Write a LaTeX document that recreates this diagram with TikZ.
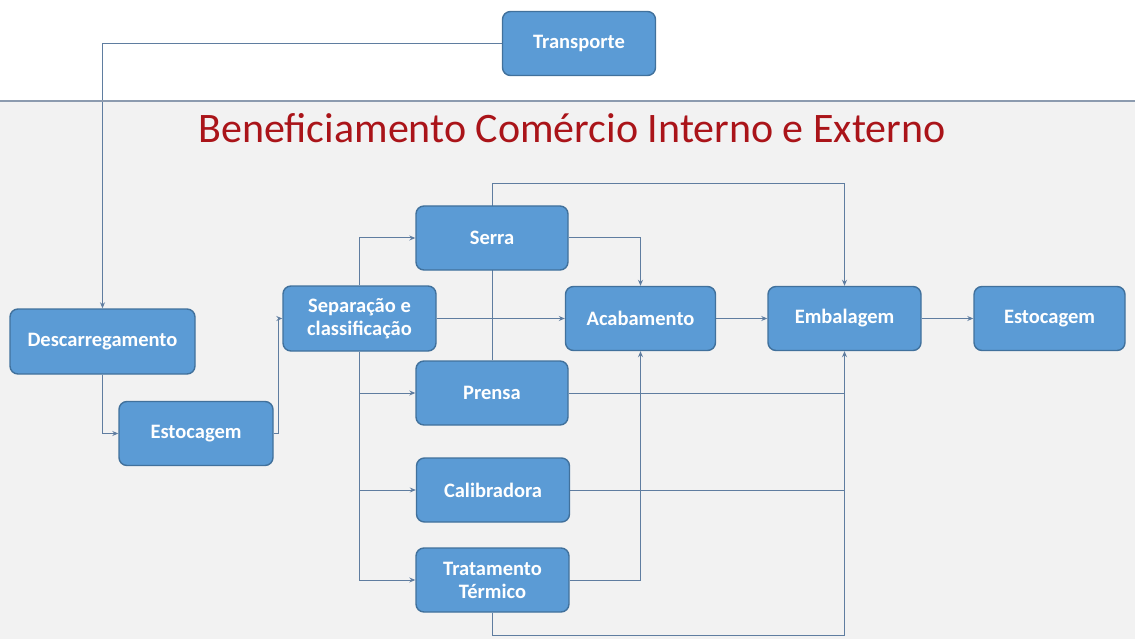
\documentclass[tikz,border=0pt]{standalone}
\usepackage{fontspec}
\setmainfont{Carlito}
\usetikzlibrary{arrows.meta,backgrounds}
\definecolor{boxfill}{RGB}{91,155,213}
\definecolor{boxline}{RGB}{65,113,156}
\definecolor{connc}{RGB}{95,125,160}
\definecolor{sepc}{RGB}{140,155,175}
\definecolor{panel}{RGB}{242,242,242}
\definecolor{titlec}{RGB}{170,20,25}
\tikzset{
  procbox/.style={draw=boxline, line width=1.4pt, fill=boxfill, rounded corners=8pt,
    text=white, font=\fontsize{20.5}{23}\selectfont\bfseries, align=center,
    inner sep=0pt, minimum width=153pt, minimum height=64pt},
  conn/.style={draw=connc, line width=1pt},
  arr/.style={conn, -{Stealth[length=6pt,width=5pt]}}
}
\begin{document}
\begin{tikzpicture}[x=1pt,y=-1pt]
\useasboundingbox (0,0) rectangle (1135,639);
\begin{pgfonlayer}{background}
  \fill[white] (0,0) rectangle (1135,101);
  \fill[panel] (0,101) rectangle (1135,639);
\end{pgfonlayer}
\draw[sepc, line width=1.6pt] (0,101) -- (1135,101);
\node[titlec, font=\fontsize{42}{44}\selectfont, anchor=base] (title) at (572,143) {Beneficiamento Comércio Interno e Externo};

\node[procbox] (trans) at (579,43.5) {Transporte};
\node[procbox, minimum width=185pt, minimum height=65pt] (desc) at (102.5,341.5) {Descarregamento};
\node[procbox, minimum width=154pt] (est1) at (196,433.5) {Estocagem};
\node[procbox, minimum height=65pt] (sep) at (359.5,318.5) {Separação e\\classificação};
\node[procbox, minimum width=152pt] (serra) at (492,238) {Serra};
\node[procbox, minimum width=150pt] (acab) at (640.5,318.5) {Acabamento};
\node[procbox] (emb) at (844.5,318.5) {Embalagem};
\node[procbox, minimum width=151pt] (est2) at (1049.5,318.5) {Estocagem};
\node[procbox, minimum width=152pt] (prensa) at (492,393) {Prensa};
\node[procbox] (calib) at (493,490) {Calibradora};
\node[procbox] (trat) at (492.5,580) {Tratamento\\Térmico};

\coordinate (top) at (0,184);
\coordinate (bot) at (0,635);

\begin{pgfonlayer}{background}
  \draw[arr] (trans.west) -| (desc.north);
  \draw[arr] (desc.south) |- (est1.west);
  \draw[arr] (est1.east) -- ++(5,0) |- (sep.west);
  \draw[arr] (sep.north) |- (serra.west);
  \draw[arr] (sep.south) |- (trat.west);
  \draw[arr] (sep.south |- prensa.west) -- (prensa.west);
  \draw[arr] (sep.south |- calib.west) -- (calib.west);
  \draw[arr] (sep.east) -- (acab.west);
  \draw[arr] (serra.east) -| (acab.north);
  \draw[arr] (prensa.north) -- (prensa.north |- top) -| (emb.north);
  \draw[conn] (prensa.east) -- (prensa.east -| emb.south);
  \draw[conn] (calib.east) -- (calib.east -| emb.south);
  \draw[arr] (trat.east) -| (acab.south);
  \draw[arr] (trat.south) -- (trat.south |- bot) -| (emb.south);
  \draw[arr] (acab.east) -- (emb.west);
  \draw[arr] (emb.east) -- (est2.west);
\end{pgfonlayer}
\end{tikzpicture}
\end{document}
